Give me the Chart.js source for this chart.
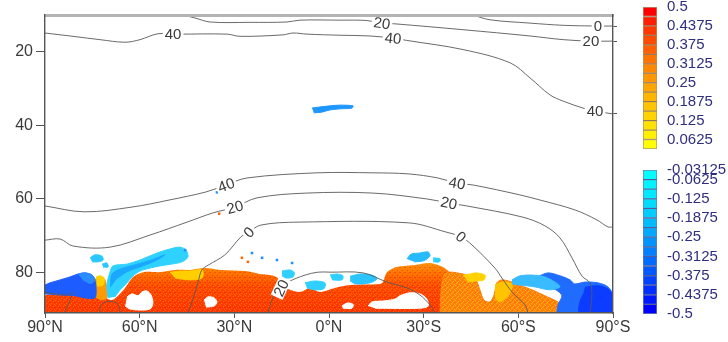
<!DOCTYPE html>
<html><head><meta charset="utf-8">
<script src="https://cdn.jsdelivr.net/npm/chart.js@4.4.1/dist/chart.umd.min.js"></script>
<style>
html,body{margin:0;padding:0;background:#fff;}
#wrap{position:relative;width:728px;height:342px;overflow:hidden;}
canvas{position:absolute;}
</style></head><body>
<div id="wrap">
<canvas id="main" width="728" height="342" style="left:0;top:0;"></canvas>
<canvas id="cbPos" width="90" height="160" style="left:638px;top:0;"></canvas>
<canvas id="cbNeg" width="90" height="182" style="left:638px;top:160px;"></canvas>
</div>
<script>
// ---------- axis ticks ----------
const latTicks = [90, 60, 30, 0, -30, -60, -90];
const latTickLabels = ['90°N', '60°N', '30°N', '0°N', '30°S', '60°S', '90°S'];
const levTicks = [20, 40, 60, 80];

// ---------- contour lines [lat, level] ----------
const c40Top = [[90,14.9],[81.1,15.8],[72.6,16.7],[64.6,17.4],[59.9,16.7],[54.2,15.1],[47.9,15.2],[32.3,15.2],[28.2,15.8],[14.6,15.4],[11.4,14.9],[7,15.2],[-3.5,15.5],[-13,15.7],[-20.3,16.3],[-24.6,16.9],[-42.5,19.4],[-57.4,23],[-63.7,27.1],[-70,31.7],[-74.2,33.4],[-80.5,35.3],[-84.3,36.1],[-90,36.9]];
const c20Top = [[46.3,10],[42.5,10.8],[37.7,11.9],[25,12],[13.3,11.9],[9.2,11.4],[-3.5,11.4],[-12,11.5],[-16.8,12.2],[-20.9,12.4],[-42.5,14],[-63.7,15.7],[-74.2,16.7],[-83,17.1],[-90,17.1]];
const c0Top = [[-45.6,10],[-51,11.3],[-63.7,12.2],[-74.2,12.8],[-85.2,13],[-90,13]];
const c40Low = [[90,61.9],[77.6,63.5],[62.4,62.2],[50.7,60.3],[39,58.1],[32.6,56.2],[26,54.3],[3.8,52.9],[-13.9,52.9],[-25.3,53.2],[-34.5,54.3],[-40.6,55.7],[-45.6,56.2],[-60.5,58.9],[-66.9,60.3],[-78,63],[-84.9,65.7],[-88.4,67.6],[-90,67.6]];
const c20Low = [[90,71.2],[85.2,70.9],[81.1,72.8],[69.4,73.1],[56.7,69.8],[45,66.3],[36.8,63.8],[29.8,62.2],[22.8,59.7],[7,58.4],[-13.9,58.4],[-31,60],[-38,61.1],[-43.7,61.9],[-61.2,64.9],[-68.4,67.3],[-73.2,70.6],[-77,76],[-80.2,81],[-82.7,82.8],[-83.3,86.1],[-82.7,91]];
const c0Low = [[44.7,91],[43.4,88],[41.5,82.6],[40.3,79.3],[38.3,78],[33,75.2],[27.9,70.3],[25.4,69],[21.6,67.1],[9.8,66.3],[-25.3,66.5],[-37.1,69],[-41.8,70.3],[-45.3,72.5],[-52.6,78.8],[-54.8,81.5],[-58,85.3],[-62.1,88.8],[-63.1,91]];
const c20Dome = [[19.3,91],[17.8,86.9],[15.2,84.2],[13,82.6],[7.6,80.7],[3.5,79.9],[-0.3,79.9],[-10.8,80.1],[-18.4,82.6],[-24.7,84.2],[-28.8,86.1],[-32,88.8],[-33.6,91]];
const cPolarN = [[90,85.5],[86.8,85.8],[83,86.1],[81.4,85.5],[82,87.5],[83.1,89.4],[83.7,91]];
const cCircleN = [[72.6,91],[72.4,89],[71,88.1],[69.4,87.8],[67.8,88.1],[66.6,89],[66.2,91]];

// ---------- contour labels ----------
const labelText = ['40','20','40','0','20','40','40','40','20','20','0','0','20'];
const labelLat  = [49.4,-16.8,-20.3,-85.2,-83,-84.3,32.6,-40.6,29.8,-38,25.4,-41.8,15.2];
const labelLev  = [15.2,12.2,16.3,13,17.1,36.1,56.2,55.7,62.2,61.1,69,70.3,84.2];
const labelAngle = [0,8,6,0,0,0,-20,10,-15,12,-45,40,-65];

// ---------- shaded field regions [lat, level] ----------
const redRegion = [[90,91],[90,86.3],[85.2,86.1],[78.9,85.8],[74.8,86.3],[74.2,82],[72.6,81.2],[71,82],[70.4,86.9],[68.8,87.5],[67.2,86.6],[64.6,84.2],[62.1,81.2],[58.9,79.9],[53.6,79.9],[48.8,79.3],[44,79.3],[39.3,78.8],[34.5,79.3],[26.6,79.6],[21.9,80.4],[18.7,80.7],[16.2,81.5],[14.9,83.4],[12.4,84.7],[9.2,85.3],[6,84.2],[2.9,85.3],[-1.9,84.2],[-6.7,83.4],[-16.2,83.1],[-17.1,82.6],[-18.4,79.9],[-21.5,78.5],[-26.6,78],[-32,77.4],[-36.1,78.5],[-38.3,79.9],[-40.6,80.1],[-44.7,80.9],[-46.6,82],[-47.8,84.7],[-49.1,87.5],[-51,88],[-52.3,86.1],[-53.2,82.8],[-54.8,82],[-58,82.6],[-61.2,83.7],[-64.3,84.7],[-68.4,86.3],[-71.9,87.7],[-74.2,89.1],[-75.7,91]];
const orangeSouth = [[-35.2,91],[-35.5,85],[-36.5,80.5],[-38.3,79.9],[-40.6,80.1],[-44.7,80.9],[-46.6,82],[-47.8,84.7],[-49.1,87.5],[-51,88],[-52.3,86.1],[-53.2,82.8],[-54.8,82],[-58,82.6],[-61.2,83.7],[-64.3,84.7],[-68.4,86.3],[-71.9,87.7],[-74.2,89.1],[-75.7,91]];
const orangeNorth = [[74.8,86.3],[74.2,82],[72.6,81.2],[71,82],[70.4,86.9],[72.5,87.5]];
const yellowA = [[73.8,81.2],[72.6,80.9],[71.3,81.5],[71.6,83.4],[73.5,83.7]];
const yellowB = [[50.4,80],[47.2,79.6],[44,79.6],[40.2,79.3],[40.2,81.5],[44,82],[48.8,81.5]];
const yellowC = [[-42.5,80.7],[-44.7,80.4],[-46.6,80.1],[-49.4,80.7],[-49.1,82],[-46.6,82.3],[-44,82.6]];
const yellowD = [[-52.6,83.4],[-54.8,82.6],[-58,83.1],[-57,86],[-54.2,88],[-52.6,87]];
const blueNorth = [[90,83.4],[88.4,82.8],[85.2,82],[82.1,81.2],[79.5,80.4],[77.3,80.1],[75.1,80.7],[74.2,82],[73.8,84.7],[74.2,86.9],[77.3,86.9],[80.5,86.3],[85.2,86.1],[90,85.8]];
const blueNorthLight = [[79.5,80.4],[77.3,80.1],[75.1,80.7],[74.2,82],[75.5,83],[78,82]];
const cyanNorth = [[70,86.9],[70.4,83.4],[69.4,79.9],[68.5,78.2],[64,77.7],[59.9,76.6],[54.5,74.7],[50.4,73.6],[47.2,73.1],[45.3,73.9],[44.7,75.8],[46.6,77.1],[49.8,77.7],[53.6,78.2],[56.7,78.8],[59.9,79.6],[62.1,80.9],[64,82.8],[66.2,84.7],[67.8,86.6]];
const cyanNorthInner = [[69.2,84],[68.8,80.5],[66,79],[61,77.8],[56,76.5],[52,75.2],[55,76.8],[60,78.5],[64,79.8],[67,81.5]];
const cyanN2 = [[75.7,76],[74.2,75.2],[72,75.5],[71.6,76.6],[73.2,77.1],[75.1,77.1]];
const cyanN3 = [[71.9,77.7],[70.4,77.4],[70,78.5],[71.6,78.5]];
const blobAloft = [[5.4,35.3],[2.9,35],[-0.3,34.7],[-3.5,34.5],[-7.6,34.7],[-7.3,35.3],[-3.5,35.5],[-0.3,35.8],[2.3,36.4],[4.8,36.6]];
const cyanEq1 = [[14.9,79.6],[12.4,79.3],[11,80],[11.4,81.2],[13.6,81.5],[14.9,80.9]];
const cyanEq2 = [[7.6,82.8],[4.5,82.3],[1.3,82.8],[1.6,84.4],[4.5,84.7],[7,84.2]];
const cyanEq3 = [[-0.3,80.7],[-2.5,80.4],[-4.4,80.9],[-4.1,82],[-1,82]];
const cyanEq4 = [[-6.7,81],[-10,80.4],[-13.6,80.7],[-15.2,81.7],[-13,82.8],[-8.5,83.1],[-6.7,82.3]];
const cyanEq5 = [[-24.7,76.3],[-26,75],[-28.8,74.7],[-31.4,74.4],[-32,75.5],[-30,76.8],[-27,77.1]];
const cyanEq6 = [[-33,76],[-35.2,76.3],[-35,77.1],[-33,77.1]];
const cyanSouth = [[-58,82],[-60.5,80.9],[-64.3,80.7],[-68.4,81.2],[-71.6,82.6],[-73.2,83.9],[-70,84.7],[-65.3,83.9],[-60.5,83.4],[-58,83.1]];
const blueSouth = [[-65.9,81.2],[-69.4,80.1],[-73.2,80.9],[-76.4,82],[-77.9,83.1],[-81.1,82.6],[-85.2,82.8],[-88.4,83.9],[-90,86.1],[-90,91],[-72.6,91],[-72.6,88.8],[-73.8,86.3],[-71.9,84.7],[-68.4,83.4],[-66.2,82.3]];
const blueSouthDark = [[-81.1,84],[-85.2,83.6],[-88.4,84.5],[-90,86.5],[-90,91],[-79.5,91],[-79.5,88],[-80.5,86]];
const holeA = [[64,86.6],[62.4,85.8],[60.5,86.3],[59.3,85.3],[57.7,85],[56.4,86.1],[55.8,88.3],[56.7,89.9],[59.9,90.2],[63.1,89.9],[64.6,89.1]];
const holeB = [[39.6,87.5],[38.3,86.6],[36.4,86.9],[35.5,88],[36.4,89.1],[39,89.4]];
const holeC = [[-12.4,89.1],[-13.6,88],[-17.7,87.7],[-20.9,87.2],[-22.5,86.3],[-25.7,85.5],[-28.8,85.8],[-31,87.2],[-31.4,89.1],[-28.8,89.7],[-14.6,89.7]];
const holeD = [[-4.1,89.1],[-5.7,88.3],[-7.6,88.6],[-7.3,89.7],[-4.4,89.7]];
const blueDots = [[24.4,74.7],[21.2,76],[16.5,76.6],[11.7,77.4],[45.6,73.9],[35.5,58.2]];
const orangeDots = [[27.6,76],[25.7,77.1],[34.8,64]];

// ---------- colour bars ----------
const posEdges = [0.03125,0.0625,0.09375,0.125,0.15625,0.1875,0.21875,0.25,0.28125,0.3125,0.34375,0.375,0.40625,0.4375,0.46875,0.5];
const posColors = ['#ffff00','#fff000','#ffe100','#ffd200','#ffc300','#ffb400','#ffa500','#ff9600','#ff8700','#ff7300','#ff5f00','#ff4b00','#ff3700','#ff1e00','#ff0000'];
const posTickVals = [0.0625,0.125,0.1875,0.25,0.3125,0.375,0.4375,0.5];
const posTickLabels = ['0.0625','0.125','0.1875','0.25','0.3125','0.375','0.4375','0.5'];
const negEdges = [-0.5,-0.46875,-0.4375,-0.40625,-0.375,-0.34375,-0.3125,-0.28125,-0.25,-0.21875,-0.1875,-0.15625,-0.125,-0.09375,-0.0625,-0.03125];
const negColors = ['#0000ff','#0018ff','#0030ff','#0044ff','#0058ff','#006cff','#0080ff','#0094ff','#00a8ff','#00bcff','#00ccff','#00dcff','#00e8ff','#00f4ff','#00ffff'];
const negTickVals = [-0.5,-0.4375,-0.375,-0.3125,-0.25,-0.1875,-0.125,-0.0625,-0.03125];
const negTickLabels = ['-0.5','-0.4375','-0.375','-0.3125','-0.25','-0.1875','-0.125','-0.0625','-0.03125'];

// ================= drawing =================
Chart.defaults.font.family = '"Liberation Sans", Arial, sans-serif';
const FONT = {family:'"Liberation Sans", Arial, sans-serif', size:16};
const CBFONT = {family:'"Liberation Sans", Arial, sans-serif', size:15};
const toXY = a => a.map(p => ({x:p[0], y:p[1]}));

function redGradient(ctx) {
  const ch = ctx.chart, y = ch.scales && ch.scales.y;
  if (!y || !ch.chartArea) return '#ff4d00';
  const y0 = y.getPixelForValue(76), y1 = y.getPixelForValue(91);
  const g = ch.ctx.createLinearGradient(0, y0, 0, y1);
  g.addColorStop(0, '#ffa818');
  g.addColorStop(0.28, '#ff7000');
  g.addColorStop(0.5, '#ff4a00');
  g.addColorStop(1, '#ff3400');
  return g;
}
// fine speckle textures (like densely packed contour fill)
const patterns = {};
function makePattern(ctx, key, cells) {
  if (!patterns[key]) {
    const c = document.createElement('canvas'); c.width = 5; c.height = 5;
    const g = c.getContext('2d');
    cells.forEach(([col, pts]) => { g.fillStyle = col; pts.forEach(([a, b]) => g.fillRect(a, b, 1, 1)); });
    patterns[key] = ctx.chart.ctx.createPattern(c, 'repeat');
  }
  return patterns[key];
}
const speckleRed = ctx => makePattern(ctx, 'red', [
  ['rgba(255,150,0,0.55)', [[0,0],[3,1],[1,3],[4,4]]],
  ['rgba(230,20,0,0.35)', [[2,0],[0,2],[4,2]]]]);
const speckleOrange = ctx => makePattern(ctx, 'orange', [
  ['rgba(255,215,0,0.6)', [[0,0],[3,1],[1,3],[4,4],[2,2]]],
  ['rgba(255,80,0,0.4)', [[2,0],[0,2],[4,2]]]]);

function area(data, color, order) {
  return {type:'line', data:toXY(data), fill:'shape', backgroundColor:color,
    borderColor: typeof color === 'string' ? color : 'rgba(0,0,0,0)', borderWidth:1,
    pointRadius:0, pointHoverRadius:0, tension:0.3, order};
}
function contour(data) {
  return {type:'line', data:toXY(data), fill:false, borderColor:'#595959', borderWidth:0.9,
    pointRadius:0, pointHoverRadius:0, tension:0.35, order:5};
}
function dots(data, color) {
  return {type:'line', data:toXY(data), showLine:false, pointStyle:'rect', pointRadius:1.8,
    pointBackgroundColor:color, pointBorderWidth:0, order:30};
}

const datasets = [
  area(redRegion, redGradient, 100),
  area(redRegion, speckleRed, 99),
  area(orangeSouth, '#ff8210', 95),
  area(orangeSouth, speckleOrange, 94),
  area(orangeNorth, '#ff9a00', 95),
  area(yellowA, '#ffd200', 90), area(yellowB, '#ffcf00', 90),
  area(yellowC, '#ffd200', 90), area(yellowD, '#ffc400', 90),
  area(blueNorth, '#1d5cff', 80), area(blueNorthLight, '#2a8cff', 79),
  area(cyanNorth, '#2fd2ff', 78), area(cyanNorthInner, '#1aa8ff', 77),
  area(cyanN2, '#28c8ff', 78), area(cyanN3, '#28c8ff', 78),
  area(blobAloft, '#1e96ff', 78),
  area(cyanEq1, '#2fd0ff', 78), area(cyanEq2, '#2fd0ff', 78), area(cyanEq3, '#2fd0ff', 78),
  area(cyanEq4, '#2ac4ff', 78), area(cyanEq5, '#28baff', 78), area(cyanEq6, '#2fd0ff', 78),
  area(blueSouth, '#1f6cff', 80), area(blueSouthDark, '#0b3cff', 79),
  area(cyanSouth, '#38bcff', 76),
  area(holeA, '#ffffff', 60), area(holeB, '#ffffff', 60), area(holeC, '#ffffff', 60), area(holeD, '#ffffff', 60),
  dots(blueDots, '#1e90ff'), dots(orangeDots, '#ff6a00'),
  contour(c40Top), contour(c20Top), contour(c0Top), contour(c40Low), contour(c20Low),
  contour(c0Low), contour(c20Dome), contour(cPolarN), contour(cCircleN)
];

const rightTicks = [c0Top, c20Top, c40Top].map(c => c[c.length - 1][1]);

const contourLabels = {
  id:'contourLabels',
  afterDatasetsDraw(chart) {
    const {ctx, scales:{x, y}} = chart;
    ctx.save();
    ctx.font = '15px "Liberation Sans", Arial, sans-serif';
    ctx.textAlign = 'center'; ctx.textBaseline = 'middle';
    labelText.forEach((t, i) => {
      const px = x.getPixelForValue(labelLat[i]), py = y.getPixelForValue(labelLev[i]);
      ctx.save();
      ctx.translate(px, py); ctx.rotate(labelAngle[i] * Math.PI / 180);
      const w = ctx.measureText(t).width + 4;
      ctx.fillStyle = '#ffffff'; ctx.fillRect(-w / 2, -6.5, w, 13);
      ctx.fillStyle = '#3a3a3a'; ctx.fillText(t, 0, 1);
      ctx.restore();
    });
    ctx.restore();
  }
};

new Chart(document.getElementById('main'), {
  type:'line',
  data:{datasets},
  plugins:[contourLabels],
  options:{
    responsive:false, animation:false, events:[],
    layout:{padding:{top:15, right:109, bottom:0, left:0}},
    plugins:{legend:{display:false}, tooltip:{enabled:false}},
    scales:{
      x:{type:'linear', reverse:true, min:-90, max:90, position:'bottom',
        afterBuildTicks:s => { s.ticks = latTicks.map(v => ({value:v})); },
        ticks:{callback:v => latTickLabels[latTicks.indexOf(v)], color:'#3a3a3a', font:FONT, padding:0, maxRotation:0, autoSkip:false},
        grid:{display:true, drawOnChartArea:false, tickLength:5, color:'#555'},
        border:{display:true, color:'#555', width:1.4, z:1},
        afterFit:s => { s.height = 29; }},
      xTop:{type:'linear', reverse:true, min:-90, max:90, position:'top',
        ticks:{display:false}, grid:{display:false},
        border:{display:true, color:'#b4b4b4', width:3, z:1},
        afterFit:s => { s.height = 0; }},
      y:{type:'linear', reverse:true, min:10, max:91, position:'left',
        afterBuildTicks:s => { s.ticks = levTicks.map(v => ({value:v})); },
        ticks:{color:'#3a3a3a', font:FONT, padding:3},
        grid:{display:true, drawOnChartArea:false, tickLength:9, color:'#555'},
        border:{display:true, color:'#555', width:1.4, z:1},
        afterFit:s => { s.width = 45; }},
      y2:{type:'linear', reverse:true, min:10, max:91, position:'right',
        afterBuildTicks:s => { s.ticks = rightTicks.map(v => ({value:v})); },
        ticks:{display:false},
        grid:{display:true, drawOnChartArea:false, tickLength:4, color:'#555'},
        border:{display:true, color:'#555', width:1.4, z:1},
        afterFit:s => { s.width = 6; }}
    }
  }
});

function colorbar(id, edges, colors, tickVals, tickLabels, padTop, padBottom, sep) {
  new Chart(document.getElementById(id), {
    type:'bar',
    data:{labels:[''], datasets: colors.map((c, i) => ({
      data:[[edges[i], edges[i + 1]]], backgroundColor:c, borderColor:sep, borderWidth:1,
      borderSkipped:false, barPercentage:1, categoryPercentage:1, grouped:false}))},
    options:{
      responsive:false, animation:false, events:[],
      layout:{padding:{left:5, top:padTop, bottom:padBottom, right:0}},
      plugins:{legend:{display:false}, tooltip:{enabled:false}},
      scales:{
        x:{display:false, stacked:true},
        y:{position:'right', min:edges[0], max:edges[edges.length - 1],
          afterBuildTicks:s => { s.ticks = tickVals.map(v => ({value:v})); },
          ticks:{callback:v => tickLabels[tickVals.indexOf(v)], color:'#2f2f80', font:CBFONT, padding:2, autoSkip:false},
          grid:{display:false}, border:{display:false},
          afterFit:s => { s.width = 71; s.paddingTop = 0; s.paddingBottom = 0; }}
      }
    }
  });
}
colorbar('cbPos', posEdges, posColors, posTickVals, posTickLabels, 7, 11, 'rgba(110,60,0,0.55)');
colorbar('cbNeg', negEdges, negColors, negTickVals, negTickLabels, 10, 28, 'rgba(0,20,110,0.55)');
</script>
</body></html>
